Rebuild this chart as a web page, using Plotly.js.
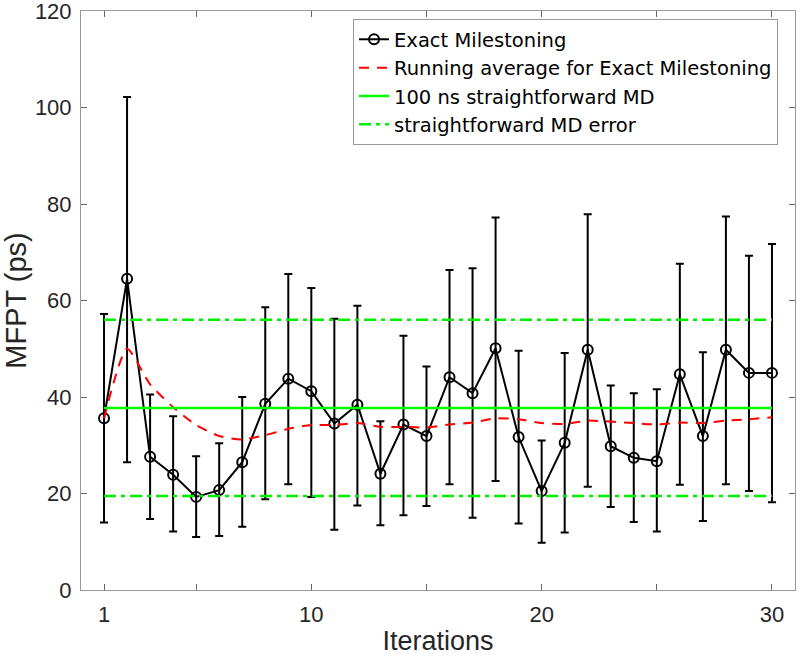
<!DOCTYPE html>
<html>
<head>
<meta charset="utf-8">
<script src="https://cdn.plot.ly/plotly-3.0.1.min.js"></script>
<style>html,body{margin:0;padding:0;background:#fff;}#chart{width:800px;height:656px;}</style>
</head>
<body>
<div id="chart"></div>
<script>
// Data
const iterations = [1,2,3,4,5,6,7,8,9,10,11,12,13,14,15,16,17,18,19,20,21,22,23,24,25,26,27,28,29,30];
const mfpt = [35.6,64.5,27.6,23.9,19.3,20.7,26.5,38.6,43.8,41.2,34.5,38.4,24.1,34.3,31.9,44.1,40.8,50.1,31.7,20.5,30.5,49.8,29.8,27.4,26.7,44.7,31.9,49.8,45.0,45.0];
const errTop = [57.2,102.2,40.5,36.0,27.7,30.4,40.0,58.6,65.5,62.6,56.2,58.9,35.0,52.7,46.3,66.3,66.7,77.2,49.6,31.0,49.1,77.9,42.4,40.8,41.6,67.6,49.3,77.4,69.3,71.7];
const errBottom = [14.0,26.5,14.7,12.1,11.0,11.2,13.1,18.8,21.9,19.3,12.5,17.5,13.4,15.5,17.4,21.9,15.0,22.6,13.8,9.8,11.9,21.4,17.2,14.1,12.1,21.8,14.3,21.9,20.5,18.2];
const runningAvg = [35.6,50.0,42.6,37.9,34.2,31.9,31.2,32.1,33.4,34.2,34.2,34.6,33.8,33.8,33.7,34.3,34.7,35.6,35.4,34.6,34.4,35.1,34.9,34.6,34.3,34.7,34.6,35.1,35.4,35.8];
const mdMean = 37.7;
const mdErrUpper = 56.0;
const mdErrLower = 19.5;
const xTickVals = [1,5,10,15,20,25,30];
const xTickText = ['1','','10','','20','','30'];
const yTickVals = [0,20,40,60,80,100,120];

const plus = mfpt.map((v,i)=>errTop[i]-v);
const minus = mfpt.map((v,i)=>v-errBottom[i]);
const xFirst = iterations[0], xLast = iterations[iterations.length-1];
const FONT = 'Liberation Sans, Arial, Helvetica, sans-serif';

const traces = [
  {
    x: iterations, y: mfpt, type: 'scatter', mode: 'lines+markers',
    name: 'Exact Milestoning',
    line: {color: '#000', width: 2},
    marker: {symbol: 'circle-open', size: 10, color: '#000', line: {width: 2, color: '#000'}},
    error_y: {type: 'data', symmetric: false, array: plus, arrayminus: minus, color: '#000', thickness: 2, width: 4}
  },
  {
    x: iterations, y: runningAvg, type: 'scatter', mode: 'lines',
    name: 'Running average for Exact Milestoning',
    line: {color: '#ff0000', width: 2, dash: '10px,8px', shape: 'spline', smoothing: 0.6}
  },
  {
    x: [xFirst, xLast], y: [mdMean, mdMean], type: 'scatter', mode: 'lines',
    name: '100 ns straightforward MD',
    line: {color: '#00ff00', width: 2.5}
  },
  {
    x: [xFirst, xLast, null, xFirst, xLast], y: [mdErrUpper, mdErrUpper, null, mdErrLower, mdErrLower],
    type: 'scatter', mode: 'lines', connectgaps: false,
    name: 'straightforward MD error',
    line: {color: '#00ee00', width: 2.5, dash: '12px,5px,4px,5px'}
  }
];

const axisCommon = {
  showline: true, linecolor: '#999', linewidth: 1, mirror: 'ticks',
  ticks: 'inside', ticklen: 6, tickcolor: '#666', tickwidth: 1,
  showgrid: false, zeroline: false, ticklabeloverflow: 'allow',
  tickfont: {family: FONT, size: 22, color: '#262626'}
};

const layout = {
  width: 800, height: 656,
  margin: {l: 81, r: 5, t: 11, b: 66},
  paper_bgcolor: '#fff', plot_bgcolor: '#fff',
  showlegend: true,
  xaxis: Object.assign({}, axisCommon, {
    range: [0, 31], tickvals: xTickVals, ticktext: xTickText,
    ticklabelstandoff: 5,
    title: {text: 'Iterations', font: {family: FONT, size: 27, color: '#262626'}, standoff: 18}
  }),
  yaxis: Object.assign({}, axisCommon, {
    range: [0, 120], tickvals: yTickVals,
    ticklabelstandoff: 4,
    title: {text: 'MFPT (ps)', font: {family: FONT, size: 29, color: '#262626'}, standoff: 6}
  }),
  legend: {
    x: 0.381, y: 0.986, xanchor: 'left', yanchor: 'top',
    bgcolor: '#fff', bordercolor: '#999', borderwidth: 1,
    font: {family: 'DejaVu Sans, sans-serif', size: 19.5, color: '#000'},
    tracegroupgap: 0, itemwidth: 30
  }
};

Plotly.newPlot('chart', traces, layout, {displayModeBar: false, staticPlot: true});
</script>
</body>
</html>
